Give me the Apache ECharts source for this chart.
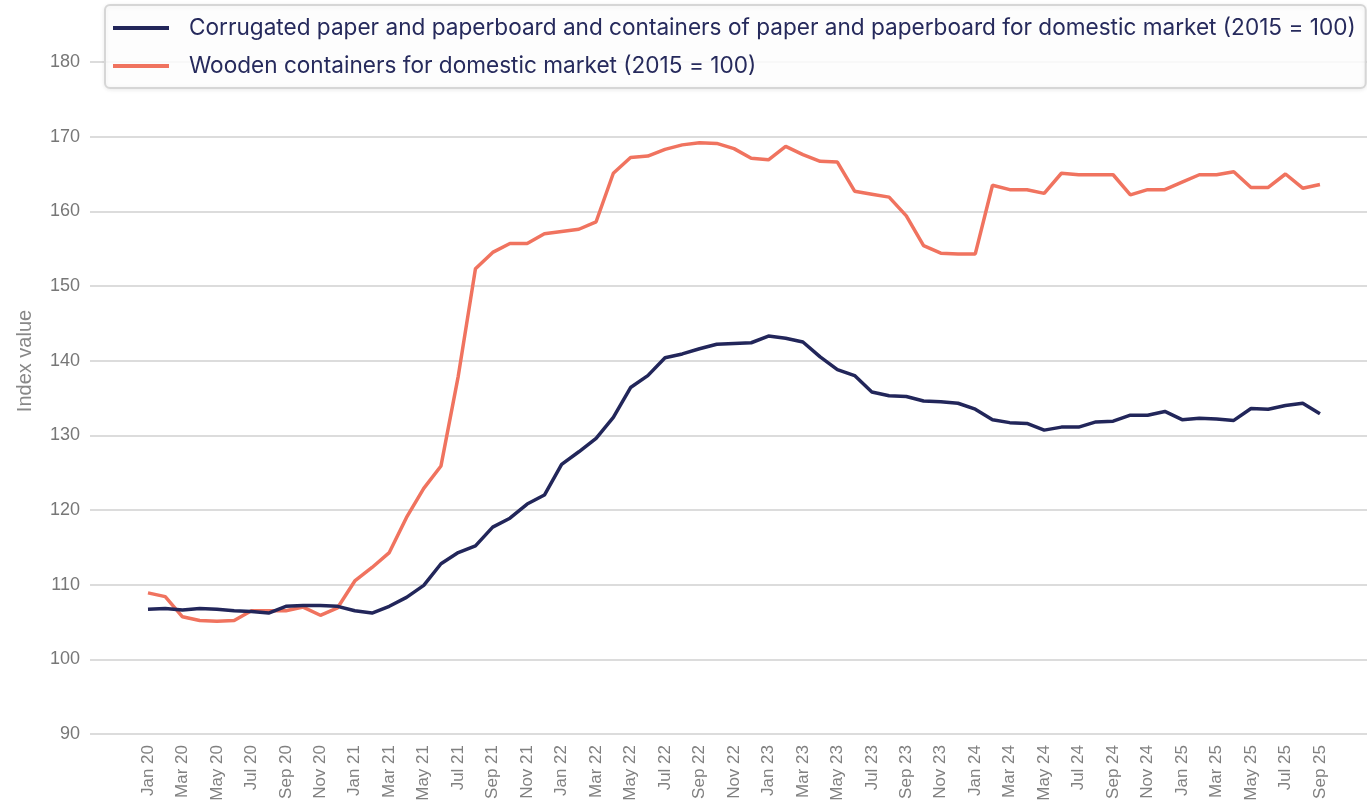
<!DOCTYPE html>
<html>
<head>
<meta charset="utf-8">
<script src="https://cdn.jsdelivr.net/npm/echarts@6/dist/echarts.min.js"></script>
<style>
  html, body { margin: 0; padding: 0; background: #fff; }
  #chart { width: 1367px; height: 807px; }
</style>
</head>
<body>
<div id="chart"></div>
<script>
// months Jan 20 .. Sep 25
var months = [
  'Jan 20', 'Feb 20', 'Mar 20', 'Apr 20', 'May 20', 'Jun 20', 'Jul 20', 'Aug 20', 'Sep 20', 'Oct 20', 'Nov 20', 'Dec 20',
  'Jan 21', 'Feb 21', 'Mar 21', 'Apr 21', 'May 21', 'Jun 21', 'Jul 21', 'Aug 21', 'Sep 21', 'Oct 21', 'Nov 21', 'Dec 21',
  'Jan 22', 'Feb 22', 'Mar 22', 'Apr 22', 'May 22', 'Jun 22', 'Jul 22', 'Aug 22', 'Sep 22', 'Oct 22', 'Nov 22', 'Dec 22',
  'Jan 23', 'Feb 23', 'Mar 23', 'Apr 23', 'May 23', 'Jun 23', 'Jul 23', 'Aug 23', 'Sep 23', 'Oct 23', 'Nov 23', 'Dec 23',
  'Jan 24', 'Feb 24', 'Mar 24', 'Apr 24', 'May 24', 'Jun 24', 'Jul 24', 'Aug 24', 'Sep 24', 'Oct 24', 'Nov 24', 'Dec 24',
  'Jan 25', 'Feb 25', 'Mar 25', 'Apr 25', 'May 25', 'Jun 25', 'Jul 25', 'Aug 25', 'Sep 25'
];

var corrugated = [
  106.7, 106.8, 106.6, 106.8, 106.7, 106.5, 106.4, 106.2, 107.1, 107.2, 107.2, 107.1,
  106.5, 106.2, 107.1, 108.3, 109.9, 112.8, 114.3, 115.2, 117.7, 118.9, 120.8, 122.0,
  126.1, 127.8, 129.6, 132.4, 136.4, 138.0, 140.4, 140.9, 141.6, 142.2, 142.3, 142.4,
  143.3, 143.0, 142.5, 140.5, 138.8, 138.0, 135.8, 135.3, 135.2, 134.6, 134.5, 134.3,
  133.5, 132.1, 131.7, 131.6, 130.7, 131.1, 131.1, 131.8, 131.9, 132.7, 132.7, 133.2,
  132.1, 132.3, 132.2, 132.0, 133.6, 133.5, 134.0, 134.3, 132.9
];

var wooden = [
  108.9, 108.4, 105.7, 105.2, 105.1, 105.2, 106.5, 106.5, 106.5, 107.0, 105.9, 106.9,
  110.5, 112.3, 114.3, 119.0, 122.9, 125.9, 137.9, 152.3, 154.5, 155.7, 155.7, 157.0,
  157.3, 157.6, 158.6, 165.1, 167.2, 167.4, 168.3, 168.9, 169.2, 169.1, 168.4, 167.1,
  166.9, 168.7, 167.6, 166.7, 166.6, 162.7, 162.3, 161.9, 159.4, 155.4, 154.4, 154.3,
  154.3, 163.5, 162.9, 162.9, 162.4, 165.1, 164.9, 164.9, 164.9, 162.2, 162.9, 162.9,
  163.9, 164.9, 164.9, 165.3, 163.2, 163.2, 165.0, 163.1, 163.6
];

var seriesNames = [
  'Corrugated paper and paperboard and containers of paper and paperboard for domestic market (2015 = 100)',
  'Wooden containers for domestic market (2015 = 100)'
];

// every second month gets a label
var labelIdx = [];
for (var i = 0; i < months.length; i += 2) labelIdx.push(i);

function toPairs(arr) {
  return arr.map(function (v, i) { return [i, v]; });
}

var chart = echarts.init(document.getElementById('chart'));

var option = {
  backgroundColor: '#ffffff',
  animation: false,
  grid: { left: 90, right: 0, top: 62, bottom: 73 },
  legend: {
    data: seriesNames,
    orient: 'vertical',
    left: 105,
    top: 5,
    icon: 'rect',
    itemWidth: 56,
    itemHeight: 4,
    itemGap: 14,
    padding: [11, 10, 10, 8],
    borderColor: '#d6d6d6',
    borderWidth: 2,
    borderRadius: 5,
    backgroundColor: 'rgba(255,255,255,0.85)',
    shadowColor: 'rgba(0,0,0,0.08)',
    shadowBlur: 4,
    shadowOffsetY: 1,
    textStyle: {
      color: '#262a5c',
      fontSize: 22.6,
      fontFamily: 'Inter',
      lineHeight: 24,
      padding: [0, 0, 0, 15]
    }
  },
  xAxis: {
    type: 'value',
    min: -3.365,
    max: 70.73,
    axisLine: { show: false },
    axisTick: { show: false },
    splitLine: { show: false },
    axisLabel: {
      customValues: labelIdx,
      formatter: function (v) { return months[Math.round(v)] || ''; },
      rotate: 90,
      margin: 11,
      color: '#808080',
      fontSize: 17,
      fontFamily: 'Liberation Sans'
    }
  },
  yAxis: {
    type: 'value',
    min: 90,
    max: 180,
    interval: 10,
    axisLine: { show: false },
    axisTick: { show: false },
    axisLabel: {
      margin: 10,
      color: '#777777',
      fontSize: 18,
      fontFamily: 'Liberation Sans'
    },
    splitLine: { lineStyle: { color: '#dcdcdc', width: 2 } }
  },
  graphic: [{
    type: 'text',
    x: 25,
    y: 361,
    rotation: Math.PI / 2,
    style: {
      text: 'Index value',
      fill: '#888888',
      fontSize: 20,
      fontFamily: 'Liberation Sans',
      align: 'center',
      verticalAlign: 'middle'
    }
  }],
  series: [
    {
      name: seriesNames[0],
      type: 'line',
      data: toPairs(corrugated),
      symbol: 'none',
      lineStyle: { color: '#22265a', width: 3.5 },
      itemStyle: { color: '#22265a' },
      z: 3
    },
    {
      name: seriesNames[1],
      type: 'line',
      data: toPairs(wooden),
      symbol: 'none',
      lineStyle: { color: '#f0735f', width: 3.5 },
      itemStyle: { color: '#f0735f' },
      z: 2
    }
  ]
};

chart.setOption(option);
</script>
</body>
</html>
